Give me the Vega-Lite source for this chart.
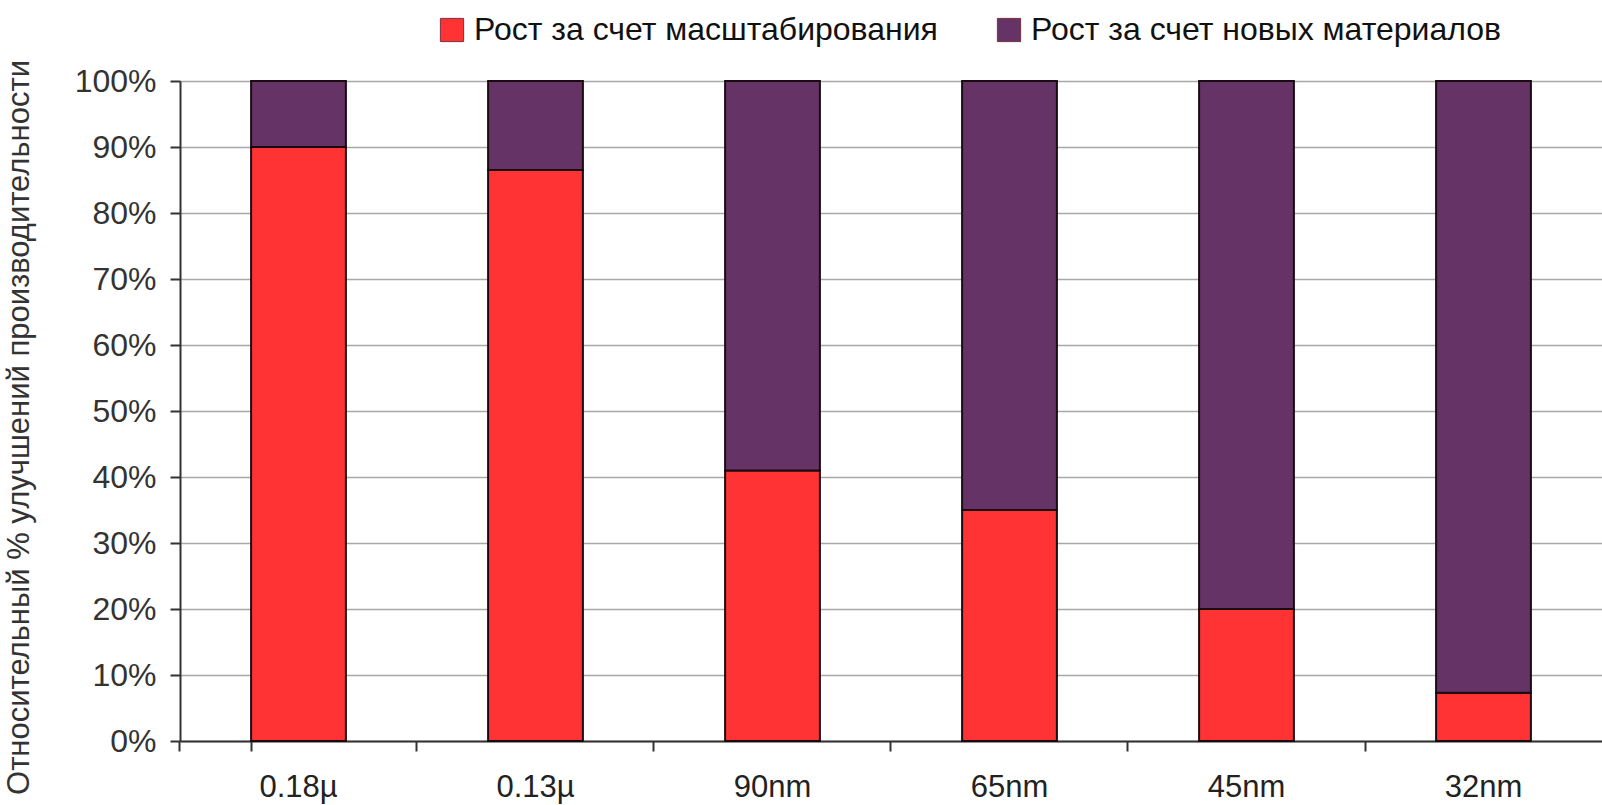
{
  "$schema": "https://vega.github.io/schema/vega-lite/v6.json",
  "width": 1422,
  "height": 660,
  "autosize": {"type": "none"},
  "padding": {"left": 180, "top": 81, "right": 0, "bottom": 64},
  "background": "white",
  "config": {
    "view": {"stroke": null},
    "font": "Liberation Sans"
  },
  "data": {
    "values": [
      {"node": "0.18µ", "series": "Рост за счет масштабирования", "share": 0.90},
      {"node": "0.18µ", "series": "Рост за счет новых материалов", "share": 0.10},
      {"node": "0.13µ", "series": "Рост за счет масштабирования", "share": 0.865},
      {"node": "0.13µ", "series": "Рост за счет новых материалов", "share": 0.135},
      {"node": "90nm", "series": "Рост за счет масштабирования", "share": 0.41},
      {"node": "90nm", "series": "Рост за счет новых материалов", "share": 0.59},
      {"node": "65nm", "series": "Рост за счет масштабирования", "share": 0.35},
      {"node": "65nm", "series": "Рост за счет новых материалов", "share": 0.65},
      {"node": "45nm", "series": "Рост за счет масштабирования", "share": 0.20},
      {"node": "45nm", "series": "Рост за счет новых материалов", "share": 0.80},
      {"node": "32nm", "series": "Рост за счет масштабирования", "share": 0.073},
      {"node": "32nm", "series": "Рост за счет новых материалов", "share": 0.927}
    ]
  },
  "mark": {"type": "bar", "stroke": "#1a0a12", "strokeWidth": 2},
  "encoding": {
    "x": {
      "field": "node",
      "type": "nominal",
      "sort": null,
      "scale": {"paddingInner": 0.6, "paddingOuter": 0.3},
      "axis": {
        "title": null,
        "labelAngle": 0,
        "labelFontSize": 31,
        "labelColor": "#222222",
        "labelPadding": 21,
        "domainColor": "#333333",
        "domainWidth": 2,
        "tickColor": "#333333",
        "tickWidth": 2,
        "tickSize": 10,
        "bandPosition": -0.75,
        "tickExtra": true
      }
    },
    "y": {
      "field": "share",
      "type": "quantitative",
      "stack": "zero",
      "scale": {"domain": [0, 1], "nice": false},
      "axis": {
        "values": [0, 0.1, 0.2, 0.3, 0.4, 0.5, 0.6, 0.7, 0.8, 0.9, 1],
        "format": ".0%",
        "title": "Относительный % улучшений производительности",
        "titleFontSize": 31,
        "titleFontWeight": "normal",
        "titleColor": "#333333",
        "titleX": -152,
        "titleY": 346,
        "titleAngle": -90,
        "titleAlign": "center",
        "titleBaseline": "alphabetic",
        "labelFontSize": 32,
        "labelColor": "#333333",
        "labelPadding": 14,
        "grid": true,
        "gridColor": "#a8a8a8",
        "gridWidth": 1.5,
        "domainColor": "#333333",
        "domainWidth": 2,
        "tickColor": "#333333",
        "tickWidth": 2,
        "tickSize": 10
      }
    },
    "order": {"field": "series", "sort": "ascending"},
    "color": {
      "field": "series",
      "type": "nominal",
      "scale": {
        "domain": ["Рост за счет масштабирования", "Рост за счет новых материалов"],
        "range": ["#ff3333", "#663366"]
      },
      "legend": {
        "title": null,
        "orient": "none",
        "legendX": 256,
        "legendY": -67,
        "direction": "horizontal",
        "columns": 2,
        "columnPadding": 55,
        "symbolType": "square",
        "symbolSize": 540,
        "symbolStrokeWidth": 1,
        "symbolStrokeColor": "#7a3040",
        "labelFontSize": 32,
        "labelColor": "#111111",
        "labelOffset": 6,
        "labelLimit": 0
      }
    }
  }
}
